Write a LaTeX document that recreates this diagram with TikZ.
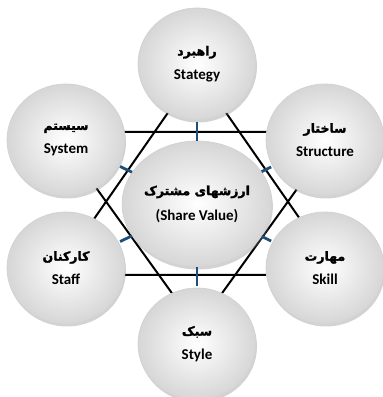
\documentclass[tikz,border=0pt]{standalone}
\usepackage{fontspec}
\usepackage{xcolor}
\setmainfont{Carlito}
\newfontfamily\fafont[Script=Arabic, FakeBold=2]{DejaVu Sans}
\TeXXeTstate=1
\usetikzlibrary{shapes.geometric,shadows}

\definecolor{tickblue}{HTML}{1F4E79}
\newcommand{\fa}[1]{{\fafont\fontsize{12.5}{14}\selectfont\beginR #1\endR}}

\begin{document}
\begin{tikzpicture}[x=1pt, y=1pt, font=\bfseries\fontsize{15}{17}\selectfont,
ball/.style={ellipse, minimum width=118pt, minimum height=112pt, inner sep=0pt, align=center,
	inner color=white, outer color=gray!32, draw=gray!35, line width=0.7pt,
	drop shadow={opacity=0.35, shadow xshift=1pt, shadow yshift=-2.5pt}},
core/.style={ball, minimum width=142pt, minimum height=126pt},
star/.style={line width=2pt},
spoke/.style={tickblue, line width=2.8pt, shorten >=1.5pt}]
\useasboundingbox (0,0) rectangle (383,397);

% corners of the two triangles
\coordinate (sys corner) at (56,265);
\coordinate (struct corner) at (338,265);
\coordinate (style corner) at (197,69);
\coordinate (strat corner) at (197,326);
\coordinate (staff corner) at (55,122);
\coordinate (skill corner) at (339,122);

\draw[star] (sys corner) -- (struct corner) -- (style corner) -- cycle;
\draw[star] (strat corner) -- (skill corner) -- (staff corner) -- cycle;

\node[core] (shared) at (197,193) {\fa{ارزشهای مشترک}\\[8pt] (Share Value)};
\node[ball] (strategy) at (197,333) {\fa{راهبرد}\\[7pt] Stategy};
\node[ball] (structure) at (325,257) {\fa{ساختار}\\[7pt] Structure};
\node[ball] (skill) at (325,129) {\fa{مهارت}\\[7pt] Skill};
\node[ball] (style) at (197,53) {\fa{سبک}\\[7pt] Style};
\node[ball] (staff) at (66,129) {\fa{کارکنان}\\[7pt] Staff};
\node[ball] (system) at (66,257) {\fa{سیستم}\\[7pt] System};

\foreach \outer in {strategy, structure, skill, style, staff, system}
	\draw[spoke] (shared) -- (\outer);
\end{tikzpicture}
\end{document}
